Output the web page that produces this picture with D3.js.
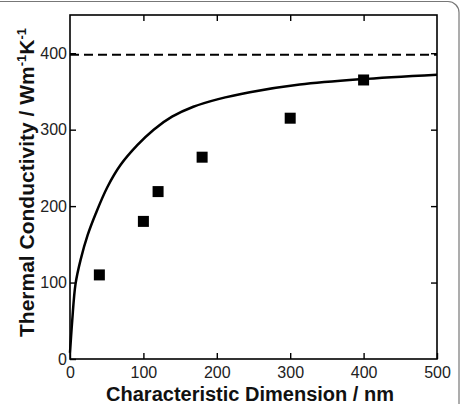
<!DOCTYPE html>
<html>
<head>
<meta charset="utf-8">
<script src="https://cdn.jsdelivr.net/npm/d3@7"></script>
<style>
  body { margin: 0; background: #fff; }
  svg { display: block; font-family: "Liberation Sans", Arial, sans-serif; }
</style>
</head>
<body>
<div id="chart"></div>
<script>
// measured points (characteristic dimension in nm, conductivity in W/mK)
var sizes = [40, 100, 120, 180, 300, 400];
var conductivity = [110, 180, 219, 264, 315, 365];

// model curve
var curveX = [0, 3, 7.5, 14.5, 24, 35, 51, 69, 92, 114, 139, 168, 202, 245, 313, 395, 500];
var curveY = [8, 50, 98, 130, 162, 190, 225, 254, 280, 300, 317, 330, 340, 349, 359, 366, 372];

// bulk value (dashed line)
var bulk = 398;

var xTicks = [0, 100, 200, 300, 400, 500];
var yTicks = [0, 100, 200, 300, 400];

const width = 461, height = 404;
const margin = { top: 15, right: 24, bottom: 45, left: 70 };

const svg = d3.select("#chart")
  .append("svg")
  .attr("width", width)
  .attr("height", height);

// rounded border of the figure panel
svg.append("rect")
  .attr("x", -12).attr("y", 1.5)
  .attr("width", 471).attr("height", 430)
  .attr("rx", 11)
  .attr("fill", "none")
  .attr("stroke", "#777")
  .attr("stroke-width", 1.2);

const x = d3.scaleLinear().domain([0, 500]).range([margin.left, width - margin.right]);
const y = d3.scaleLinear().domain([0, 450]).range([height - margin.bottom, margin.top]);

// frame
svg.append("rect")
  .attr("x", x(0)).attr("y", y(450))
  .attr("width", x(500) - x(0)).attr("height", y(0) - y(450))
  .attr("fill", "none")
  .attr("stroke", "#000")
  .attr("stroke-width", 1.6);

// axes, ticks pointing inwards
svg.append("g")
  .attr("transform", `translate(0, ${y(0)})`)
  .call(d3.axisBottom(x).tickValues(xTicks).tickSizeInner(-6).tickSizeOuter(0).tickPadding(8));
svg.append("g")
  .attr("transform", `translate(${x(0)}, 0)`)
  .call(d3.axisLeft(y).tickValues(yTicks).tickSizeInner(-6).tickSizeOuter(0).tickPadding(3));
svg.append("g")
  .attr("transform", `translate(0, ${y(450)})`)
  .call(d3.axisTop(x).tickValues(xTicks.slice(1, -1)).tickSizeInner(-6).tickSizeOuter(0).tickFormat(""));
svg.append("g")
  .attr("transform", `translate(${x(500)}, 0)`)
  .call(d3.axisRight(y).tickValues(yTicks.slice(1)).tickSizeInner(-6).tickSizeOuter(0).tickFormat(""));

svg.selectAll(".domain").remove();
svg.selectAll(".tick line").attr("stroke", "#000").attr("stroke-width", 1.4);
svg.selectAll(".tick text")
  .attr("fill", "#222")
  .style("font-size", "16px");

// bulk dashed line
svg.append("line")
  .attr("x1", x(0)).attr("x2", x(500))
  .attr("y1", y(bulk)).attr("y2", y(bulk))
  .attr("stroke", "#000")
  .attr("stroke-width", 2)
  .attr("stroke-dasharray", "9,5");

// model curve
const curveData = curveX.map((v, i) => [v, curveY[i]]);
svg.append("path")
  .datum(curveData)
  .attr("fill", "none")
  .attr("stroke", "#000")
  .attr("stroke-width", 2.5)
  .attr("d", d3.line()
    .x(d => x(d[0]))
    .y(d => y(d[1]))
    .curve(d3.curveCatmullRom.alpha(0.5)));

// square markers
const s = 11;
svg.append("g")
  .selectAll("rect")
  .data(sizes.map((v, i) => [v, conductivity[i]]))
  .join("rect")
  .attr("x", d => x(d[0]) - s / 2)
  .attr("y", d => y(d[1]) - s / 2)
  .attr("width", s)
  .attr("height", s)
  .attr("fill", "#000");

// axis titles
svg.append("text")
  .attr("x", 250)
  .attr("y", 401)
  .attr("text-anchor", "middle")
  .style("font-size", "20px")
  .style("font-weight", "bold")
  .attr("fill", "#111")
  .text("Characteristic Dimension / nm");

const yTitle = svg.append("text")
  .attr("transform", `translate(34, 182.5) rotate(-90)`)
  .attr("text-anchor", "middle")
  .style("font-size", "21px")
  .style("font-weight", "bold")
  .attr("fill", "#111");
yTitle.append("tspan").text("Thermal Conductivity / Wm");
yTitle.append("tspan").attr("dy", -8).style("font-size", "13px").text("-1");
yTitle.append("tspan").attr("dy", 8).text("K");
yTitle.append("tspan").attr("dy", -8).style("font-size", "13px").text("-1");
</script>
</body>
</html>
